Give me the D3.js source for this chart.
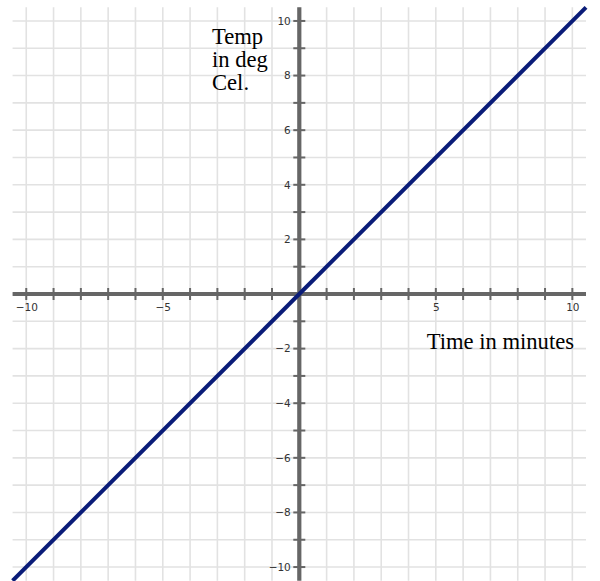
<!DOCTYPE html>
<html>
<head>
<meta charset="utf-8">
<script src="https://cdn.jsdelivr.net/npm/d3@7"></script>
<style>
    body { margin: 0; background: #fff; }
    .grid line { stroke: #e2e2e2; stroke-width: 1.6; }
    .axis-line { stroke: #666; stroke-width: 4.2; }
    .tick-mark { stroke: #666; stroke-width: 2; }
    .tick-label text { font-family: "DejaVu Sans", sans-serif; font-size: 10.5px; fill: #333; }
    .tick-label path, .tick-label line { display: none; }
    .title { font-family: "Liberation Serif", "Times New Roman", serif; font-size: 22.6px; fill: #000; }
    .line { fill: none; stroke: #0a1c78; stroke-width: 4; }
</style>
</head>
<body>
<div class="container"></div>
<script>
// data
var gridValues = d3.range(-10, 11);          // gridlines / tick marks each unit
var xTickLabels = [-10, -5, 5, 10];
var yTickLabels = [-10, -8, -6, -4, -2, 2, 4, 6, 8, 10];
var linePoints = [[-10.5, -10.5], [0, 0], [10.5, 10.5]];   // temp = time
var yTitle = ["Temp", "in deg", "Cel."];
var xTitle = "Time in minutes";

function drawChart() {
    var width = 600, height = 581;

    var x = d3.scaleLinear().domain([-10.5, 10.5]).range([12.6, 586]);
    var y = d3.scaleLinear().domain([-10.5, 10.5]).range([580.7, 7.3]);

    var svg = d3.select(".container").append("svg")
        .attr("width", width)
        .attr("height", height);

    // grid
    var grid = svg.append("g").attr("class", "grid");
    grid.selectAll(".v").data(gridValues).enter().append("line")
        .attr("x1", function (d) { return x(d); })
        .attr("x2", function (d) { return x(d); })
        .attr("y1", y(10.5)).attr("y2", y(-10.5));
    grid.selectAll(".h").data(gridValues).enter().append("line")
        .attr("y1", function (d) { return y(d); })
        .attr("y2", function (d) { return y(d); })
        .attr("x1", x(-10.5)).attr("x2", x(10.5));

    // axis lines
    svg.append("line").attr("class", "axis-line")
        .attr("x1", x(-10.5)).attr("x2", x(10.5))
        .attr("y1", y(0)).attr("y2", y(0));
    svg.append("line").attr("class", "axis-line")
        .attr("x1", x(0)).attr("x2", x(0))
        .attr("y1", y(10.5)).attr("y2", y(-10.5));

    // tick marks
    var ticks = gridValues.filter(function (d) { return d != 0; });
    svg.append("g").selectAll("line").data(ticks).enter().append("line")
        .attr("class", "tick-mark")
        .attr("x1", function (d) { return x(d); })
        .attr("x2", function (d) { return x(d); })
        .attr("y1", y(0) - 6).attr("y2", y(0) + 6);
    svg.append("g").selectAll("line").data(ticks).enter().append("line")
        .attr("class", "tick-mark")
        .attr("y1", function (d) { return y(d); })
        .attr("y2", function (d) { return y(d); })
        .attr("x1", x(0) - 6).attr("x2", x(0) + 6);

    // tick labels via axes
    svg.append("g")
        .attr("class", "tick-label")
        .attr("transform", "translate(0," + y(0) + ")")
        .call(d3.axisBottom(x).tickValues(xTickLabels).tickSize(0).tickPadding(10)
            .tickFormat(function (d) { return d3.format("d")(d).replace("-", "\u2212"); }));

    svg.append("g")
        .attr("class", "tick-label")
        .attr("transform", "translate(" + x(0) + ",0)")
        .call(d3.axisLeft(y).tickValues(yTickLabels).tickSize(0).tickPadding(8.5)
            .tickFormat(function (d) { return d3.format("d")(d).replace("-", "\u2212"); }));

    // line
    var line = d3.line()
        .x(function (d) { return x(d[0]); })
        .y(function (d) { return y(d[1]); });
    svg.append("path")
        .datum(linePoints)
        .attr("class", "line")
        .attr("d", line);

    // titles
    var t = svg.append("text").attr("class", "title")
        .attr("x", 212).attr("y", 44);
    t.selectAll("tspan").data(yTitle).enter().append("tspan")
        .attr("x", 212)
        .attr("dy", function (d, i) { return i == 0 ? 0 : 23; })
        .text(function (d) { return d; });

    svg.append("text").attr("class", "title")
        .attr("x", 574).attr("y", 349)
        .attr("text-anchor", "end")
        .text(xTitle);
}

drawChart();
</script>
</body>
</html>
